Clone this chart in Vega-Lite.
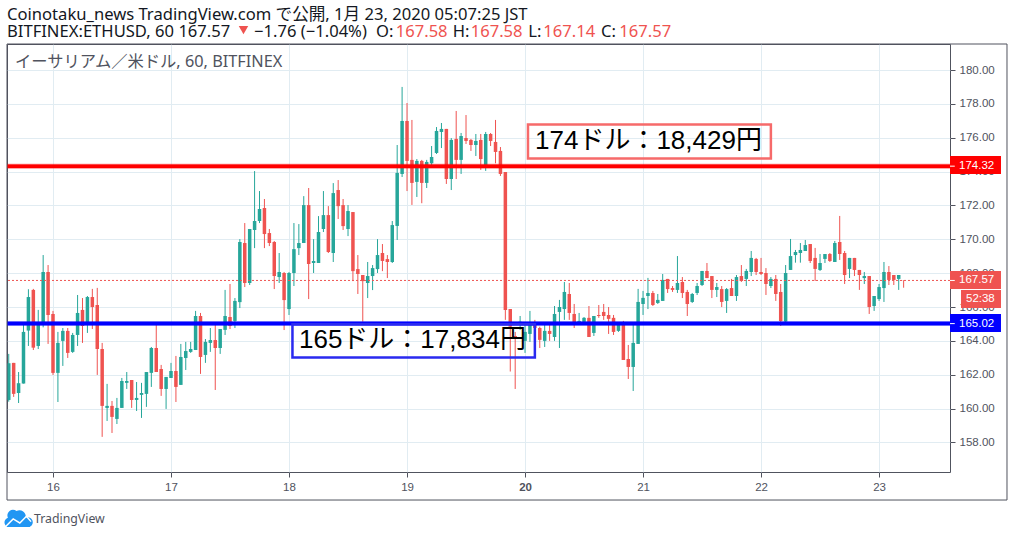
{
  "$schema": "https://vega.github.io/schema/vega-lite/v6.json",
  "width": 943,
  "height": 428,
  "autosize": {"type": "none"},
  "padding": {"left": 7, "top": 44, "right": 64, "bottom": 65},
  "background": "white",
  "config": {
    "view": {"stroke": "#50535e", "strokeWidth": 1},
    "axis": {"gridColor": "#e1ecf2", "gridWidth": 1, "tickColor": "#50535e", "tickSize": 5, "domain": false, "labelColor": "#50535e", "labelFont": "Liberation Sans", "labelFontSize": 11.5, "title": null}
  },
  "datasets": {
    "candles": [
      {"hour":-9,"open":160.51,"high":163.23,"low":160.41,"close":162.68},
      {"hour":-8,"open":162.70,"high":162.70,"low":160.69,"close":160.87},
      {"hour":-7,"open":160.92,"high":162.16,"low":160.33,"close":161.50},
      {"hour":-6,"open":161.48,"high":165.04,"low":161.48,"close":164.53},
      {"hour":-5,"open":164.61,"high":167.05,"low":163.70,"close":166.59},
      {"hour":-4,"open":167.01,"high":167.07,"low":163.46,"close":163.60},
      {"hour":-3,"open":163.70,"high":165.83,"low":163.52,"close":165.04},
      {"hour":-2,"open":165.04,"high":169.07,"low":164.80,"close":168.07},
      {"hour":-1,"open":168.07,"high":168.48,"low":163.82,"close":165.53},
      {"hour":0,"open":165.59,"high":165.77,"low":161.99,"close":162.11},
      {"hour":1,"open":162.11,"high":164.53,"low":160.39,"close":163.88},
      {"hour":2,"open":164.00,"high":164.76,"low":162.52,"close":164.59},
      {"hour":3,"open":164.59,"high":164.76,"low":162.99,"close":163.29},
      {"hour":4,"open":163.35,"high":164.47,"low":163.29,"close":164.35},
      {"hour":5,"open":164.35,"high":166.71,"low":163.70,"close":165.65},
      {"hour":6,"open":165.83,"high":166.53,"low":163.88,"close":164.88},
      {"hour":7,"open":165.04,"high":166.65,"low":164.47,"close":166.59},
      {"hour":8,"open":166.59,"high":167.07,"low":164.70,"close":166.00},
      {"hour":9,"open":166.12,"high":167.13,"low":161.99,"close":163.52},
      {"hour":10,"open":163.52,"high":163.88,"low":158.33,"close":160.16},
      {"hour":11,"open":160.04,"high":161.46,"low":159.27,"close":160.16},
      {"hour":12,"open":160.16,"high":160.45,"low":158.56,"close":159.51},
      {"hour":13,"open":159.39,"high":160.63,"low":159.09,"close":160.04},
      {"hour":14,"open":160.04,"high":161.81,"low":160.04,"close":161.63},
      {"hour":15,"open":161.52,"high":162.16,"low":161.16,"close":161.63},
      {"hour":16,"open":161.69,"high":161.69,"low":160.04,"close":160.51},
      {"hour":17,"open":160.51,"high":161.57,"low":159.86,"close":160.63},
      {"hour":18,"open":160.81,"high":161.52,"low":159.45,"close":160.92},
      {"hour":19,"open":160.87,"high":162.16,"low":160.10,"close":162.16},
      {"hour":20,"open":162.11,"high":163.64,"low":161.28,"close":163.58},
      {"hour":21,"open":163.58,"high":164.94,"low":162.16,"close":162.16},
      {"hour":22,"open":162.34,"high":162.58,"low":160.75,"close":161.16},
      {"hour":23,"open":161.16,"high":161.87,"low":159.98,"close":161.87},
      {"hour":24,"open":161.81,"high":162.70,"low":161.81,"close":162.22},
      {"hour":25,"open":162.22,"high":163.11,"low":160.39,"close":161.28},
      {"hour":26,"open":161.40,"high":163.82,"low":161.40,"close":163.05},
      {"hour":27,"open":162.99,"high":163.94,"low":162.28,"close":163.40},
      {"hour":28,"open":163.35,"high":163.94,"low":163.29,"close":163.52},
      {"hour":29,"open":163.46,"high":165.77,"low":163.46,"close":165.47},
      {"hour":30,"open":165.47,"high":165.65,"low":162.05,"close":163.05},
      {"hour":31,"open":163.17,"high":164.11,"low":162.70,"close":163.94},
      {"hour":32,"open":163.88,"high":164.76,"low":163.35,"close":164.05},
      {"hour":33,"open":164.05,"high":165.04,"low":161.10,"close":163.58},
      {"hour":34,"open":163.58,"high":164.70,"low":163.23,"close":164.70},
      {"hour":35,"open":164.65,"high":167.01,"low":164.35,"close":165.47},
      {"hour":36,"open":165.41,"high":167.36,"low":164.70,"close":164.88},
      {"hour":37,"open":165.18,"high":166.53,"low":164.76,"close":166.36},
      {"hour":38,"open":166.29,"high":170.01,"low":165.94,"close":169.84},
      {"hour":39,"open":169.78,"high":170.96,"low":167.18,"close":167.42},
      {"hour":40,"open":167.42,"high":170.61,"low":167.30,"close":170.61},
      {"hour":41,"open":170.55,"high":174.03,"low":169.48,"close":171.08},
      {"hour":42,"open":171.08,"high":172.85,"low":170.96,"close":171.79},
      {"hour":43,"open":171.85,"high":172.38,"low":169.48,"close":170.31},
      {"hour":44,"open":170.37,"high":170.61,"low":169.60,"close":169.78},
      {"hour":45,"open":169.84,"high":169.90,"low":167.06,"close":167.83},
      {"hour":46,"open":167.77,"high":169.19,"low":167.42,"close":168.07},
      {"hour":47,"open":168.01,"high":168.07,"low":164.64,"close":166.41},
      {"hour":48,"open":165.88,"high":168.07,"low":165.53,"close":168.01},
      {"hour":49,"open":168.01,"high":170.96,"low":167.24,"close":169.42},
      {"hour":50,"open":169.48,"high":170.90,"low":169.07,"close":169.78},
      {"hour":51,"open":169.78,"high":172.55,"low":169.78,"close":172.02},
      {"hour":52,"open":172.02,"high":173.03,"low":166.47,"close":168.54},
      {"hour":53,"open":168.60,"high":170.01,"low":168.01,"close":168.72},
      {"hour":54,"open":168.60,"high":171.37,"low":168.60,"close":170.43},
      {"hour":55,"open":170.61,"high":172.85,"low":170.43,"close":171.43},
      {"hour":56,"open":171.43,"high":171.96,"low":169.19,"close":169.25},
      {"hour":57,"open":169.19,"high":173.32,"low":168.66,"close":172.73},
      {"hour":58,"open":172.91,"high":173.50,"low":171.20,"close":171.96},
      {"hour":59,"open":172.02,"high":172.38,"low":170.55,"close":170.78},
      {"hour":60,"open":170.61,"high":172.02,"low":170.19,"close":171.67},
      {"hour":61,"open":171.61,"high":171.61,"low":167.53,"close":168.12},
      {"hour":62,"open":168.24,"high":169.07,"low":166.77,"close":167.95},
      {"hour":63,"open":167.89,"high":167.89,"low":165.13,"close":167.53},
      {"hour":64,"open":167.42,"high":168.66,"low":166.53,"close":167.83},
      {"hour":65,"open":167.83,"high":168.48,"low":167.00,"close":168.30},
      {"hour":66,"open":168.24,"high":170.01,"low":168.01,"close":169.07},
      {"hour":67,"open":169.19,"high":169.72,"low":168.12,"close":168.72},
      {"hour":68,"open":168.83,"high":169.07,"low":167.71,"close":168.66},
      {"hour":69,"open":168.66,"high":171.08,"low":168.60,"close":170.84},
      {"hour":70,"open":170.79,"high":175.57,"low":169.96,"close":173.92},
      {"hour":71,"open":173.86,"high":179.00,"low":173.68,"close":176.99},
      {"hour":72,"open":176.99,"high":178.05,"low":172.85,"close":174.63},
      {"hour":73,"open":174.69,"high":177.05,"low":172.03,"close":173.33},
      {"hour":74,"open":173.39,"high":174.74,"low":172.50,"close":174.63},
      {"hour":75,"open":174.63,"high":174.69,"low":172.13,"close":173.33},
      {"hour":76,"open":173.33,"high":174.69,"low":173.03,"close":174.57},
      {"hour":77,"open":174.49,"high":175.51,"low":174.33,"close":174.86},
      {"hour":78,"open":175.10,"high":176.63,"low":175.04,"close":176.40},
      {"hour":79,"open":176.34,"high":176.87,"low":175.39,"close":176.52},
      {"hour":80,"open":176.52,"high":176.52,"low":173.27,"close":173.56},
      {"hour":81,"open":173.56,"high":175.98,"low":172.91,"close":175.87},
      {"hour":82,"open":175.93,"high":177.58,"low":173.56,"close":174.69},
      {"hour":83,"open":174.69,"high":176.28,"low":173.86,"close":176.10},
      {"hour":84,"open":175.98,"high":177.34,"low":175.63,"close":175.81},
      {"hour":85,"open":175.87,"high":175.93,"low":175.22,"close":175.57},
      {"hour":86,"open":175.57,"high":176.22,"low":174.92,"close":175.81},
      {"hour":87,"open":175.87,"high":176.22,"low":174.10,"close":174.74},
      {"hour":88,"open":174.33,"high":176.34,"low":174.04,"close":176.22},
      {"hour":89,"open":176.22,"high":176.28,"low":175.51,"close":175.81},
      {"hour":90,"open":175.75,"high":177.05,"low":174.49,"close":175.16},
      {"hour":91,"open":175.22,"high":175.45,"low":173.74,"close":173.86},
      {"hour":92,"open":173.97,"high":173.97,"low":165.24,"close":165.83},
      {"hour":93,"open":165.88,"high":165.88,"low":162.19,"close":164.84},
      {"hour":94,"open":164.29,"high":164.53,"low":161.16,"close":164.11},
      {"hour":95,"open":164.94,"high":165.47,"low":164.65,"close":165.13},
      {"hour":96,"open":164.00,"high":165.04,"low":163.29,"close":164.53},
      {"hour":97,"open":164.41,"high":165.77,"low":163.94,"close":164.94},
      {"hour":98,"open":164.94,"high":165.24,"low":164.00,"close":164.76},
      {"hour":99,"open":164.76,"high":164.84,"low":163.58,"close":164.06},
      {"hour":100,"open":164.00,"high":164.94,"low":163.64,"close":164.59},
      {"hour":101,"open":164.59,"high":164.94,"low":164.00,"close":164.41},
      {"hour":102,"open":164.23,"high":166.06,"low":164.00,"close":165.59},
      {"hour":103,"open":165.71,"high":166.42,"low":163.58,"close":166.00},
      {"hour":104,"open":165.88,"high":167.48,"low":165.24,"close":166.89},
      {"hour":105,"open":166.77,"high":167.42,"low":165.24,"close":165.65},
      {"hour":106,"open":165.59,"high":166.18,"low":164.76,"close":165.00},
      {"hour":107,"open":164.94,"high":165.65,"low":164.94,"close":165.18},
      {"hour":108,"open":165.12,"high":165.41,"low":164.94,"close":165.36},
      {"hour":109,"open":165.36,"high":166.06,"low":164.23,"close":164.23},
      {"hour":110,"open":164.47,"high":165.47,"low":164.29,"close":165.47},
      {"hour":111,"open":165.53,"high":166.12,"low":165.36,"close":165.47},
      {"hour":112,"open":165.71,"high":166.18,"low":165.24,"close":165.47},
      {"hour":113,"open":165.53,"high":166.00,"low":164.41,"close":165.30},
      {"hour":114,"open":165.36,"high":165.53,"low":164.35,"close":164.53},
      {"hour":115,"open":164.59,"high":164.94,"low":164.53,"close":164.94},
      {"hour":116,"open":165.06,"high":165.18,"low":162.87,"close":162.87},
      {"hour":117,"open":162.93,"high":163.76,"low":161.75,"close":162.46},
      {"hour":118,"open":162.46,"high":164.94,"low":161.04,"close":163.88},
      {"hour":119,"open":163.82,"high":167.07,"low":163.82,"close":166.30},
      {"hour":120,"open":166.18,"high":166.95,"low":165.53,"close":166.54},
      {"hour":121,"open":166.65,"high":167.72,"low":165.88,"close":166.83},
      {"hour":122,"open":166.83,"high":166.95,"low":166.06,"close":166.12},
      {"hour":123,"open":166.24,"high":166.77,"low":166.18,"close":166.42},
      {"hour":124,"open":166.36,"high":167.95,"low":166.36,"close":167.60},
      {"hour":125,"open":167.66,"high":167.66,"low":166.83,"close":167.06},
      {"hour":126,"open":167.12,"high":167.24,"low":166.89,"close":167.01},
      {"hour":127,"open":167.01,"high":169.01,"low":166.83,"close":167.42},
      {"hour":128,"open":167.48,"high":167.77,"low":166.53,"close":166.83},
      {"hour":129,"open":166.89,"high":167.01,"low":165.47,"close":166.18},
      {"hour":130,"open":166.30,"high":166.83,"low":166.24,"close":166.77},
      {"hour":131,"open":166.83,"high":167.42,"low":166.71,"close":167.24},
      {"hour":132,"open":167.30,"high":168.13,"low":167.24,"close":168.13},
      {"hour":133,"open":168.13,"high":168.60,"low":167.71,"close":167.71},
      {"hour":134,"open":167.83,"high":167.83,"low":166.53,"close":167.01},
      {"hour":135,"open":167.01,"high":167.42,"low":166.59,"close":167.18},
      {"hour":136,"open":167.06,"high":167.24,"low":166.00,"close":166.30},
      {"hour":137,"open":166.36,"high":167.12,"low":165.65,"close":167.06},
      {"hour":138,"open":167.12,"high":167.66,"low":166.65,"close":166.65},
      {"hour":139,"open":166.65,"high":167.89,"low":166.36,"close":167.77},
      {"hour":140,"open":167.83,"high":168.48,"low":167.48,"close":167.54},
      {"hour":141,"open":167.66,"high":168.25,"low":167.24,"close":168.13},
      {"hour":142,"open":168.07,"high":169.31,"low":167.83,"close":168.90},
      {"hour":143,"open":168.84,"high":168.90,"low":167.89,"close":168.07},
      {"hour":144,"open":168.07,"high":168.90,"low":167.89,"close":167.95},
      {"hour":145,"open":168.01,"high":168.30,"low":166.71,"close":167.36},
      {"hour":146,"open":167.24,"high":167.77,"low":167.12,"close":167.66},
      {"hour":147,"open":167.66,"high":167.89,"low":166.36,"close":166.77},
      {"hour":148,"open":166.89,"high":167.36,"low":164.88,"close":165.17},
      {"hour":149,"open":165.14,"high":168.48,"low":165.04,"close":168.01},
      {"hour":150,"open":168.19,"high":170.02,"low":168.19,"close":169.01},
      {"hour":151,"open":169.07,"high":169.37,"low":168.62,"close":169.25},
      {"hour":152,"open":169.19,"high":169.78,"low":168.62,"close":169.37},
      {"hour":153,"open":169.31,"high":169.96,"low":169.31,"close":169.66},
      {"hour":154,"open":169.72,"high":169.72,"low":168.60,"close":168.72},
      {"hour":155,"open":168.90,"high":169.49,"low":167.54,"close":168.25},
      {"hour":156,"open":168.19,"high":169.13,"low":168.13,"close":168.60},
      {"hour":157,"open":168.84,"high":169.13,"low":168.60,"close":169.13},
      {"hour":158,"open":169.13,"high":169.19,"low":168.66,"close":168.72},
      {"hour":159,"open":168.66,"high":169.90,"low":168.66,"close":169.78},
      {"hour":160,"open":169.84,"high":171.38,"low":168.78,"close":169.13},
      {"hour":161,"open":169.19,"high":169.31,"low":167.36,"close":167.89},
      {"hour":162,"open":168.25,"high":168.90,"low":167.71,"close":168.90},
      {"hour":163,"open":168.90,"high":168.90,"low":167.83,"close":168.19},
      {"hour":164,"open":168.19,"high":168.19,"low":167.01,"close":167.89},
      {"hour":165,"open":167.71,"high":168.07,"low":167.36,"close":167.83},
      {"hour":166,"open":167.83,"high":167.83,"low":165.59,"close":166.00},
      {"hour":167,"open":166.06,"high":166.65,"low":165.77,"close":166.65},
      {"hour":168,"open":166.47,"high":167.36,"low":166.36,"close":167.18},
      {"hour":169,"open":167.12,"high":168.66,"low":166.30,"close":168.07},
      {"hour":170,"open":168.07,"high":168.42,"low":167.30,"close":167.60},
      {"hour":171,"open":167.89,"high":167.89,"low":167.30,"close":167.60},
      {"hour":172,"open":167.66,"high":167.89,"low":167.01,"close":167.89},
      {"hour":173,"open":167.58,"high":167.58,"low":167.14,"close":167.57}
    ],
    "darkText": [
      {"hour":-9.355,"price":183.25,"label":"Coinotaku_news TradingView.com で公開, 1月 23, 2020 05:07:25 JST"},
      {"hour":-9.355,"price":182.24,"label":"BITFINEX:ETHUSD, 60 167.57"},
      {"hour":40.88,"price":182.24,"label":"−1.76 (−1.04%)"},
      {"hour":65.69,"price":182.24,"label":"O:"},
      {"hour":81.29,"price":182.24,"label":"H:"},
      {"hour":96.66,"price":182.24,"label":"L:"},
      {"hour":111.45,"price":182.24,"label":"C:"}
    ],
    "redText": [
      {"hour":69.70,"price":182.24,"label":"167.58"},
      {"hour":84.95,"price":182.24,"label":"167.58"},
      {"hour":99.71,"price":182.24,"label":"167.14"},
      {"hour":115.17,"price":182.24,"label":"167.57"}
    ],
    "tags": [
      {"hour":182.43,"hour2":192.8,"top":174.92,"bottom":173.86,"tag":"resistance","tickHour":183.4,"price":174.32,"labelHour":184.26,"label":"174.32"},
      {"hour":182.43,"hour2":192.8,"top":168.13,"bottom":167.06,"tag":"last","tickHour":183.4,"price":167.57,"labelHour":184.26,"label":"167.57"},
      {"hour":184.67,"hour2":192.8,"top":167.00,"bottom":165.94,"tag":"last","tickHour":184.67,"price":166.47,"labelHour":185.68,"label":"52:38"},
      {"hour":182.43,"hour2":192.8,"top":165.59,"bottom":164.52,"tag":"support","tickHour":183.4,"price":165.02,"labelHour":184.26,"label":"165.02"}
    ],
    "boxes": [
      {"hour":96.6,"hour2":146.0,"top":176.78,"bottom":174.78,"level":"resistance","labelHour":98.03,"price":175.81,"label":"174ドル：18,429円"},
      {"hour":48.7,"hour2":98.0,"top":164.98,"bottom":163.02,"level":"support","labelHour":50.03,"price":164.05,"label":"165ドル：17,834円"}
    ]
  },
  "layer": [
    {
      "data": {"name": "candles"},
      "mark": {"type": "rule", "strokeWidth": 1},
      "encoding": {
        "x": {"field": "hour", "type": "quantitative", "title": null,
          "scale": {"domain": [-9.355, 182.43], "nice": false, "zero": false},
          "axis": {"orient": "bottom", "values": [0,24,48,72,96,120,144,168], "grid": true, "labelExpr": "'' + (datum.value / 24 + 16)", "labelPadding": 4,
            "labelFontWeight": {"condition": {"test": "datum.value == 96", "value": "bold"}, "value": "normal"}}},
        "y": {"field": "low", "type": "quantitative", "title": null,
          "scale": {"domain": [156.255, 181.536], "nice": false, "zero": false},
          "axis": {"orient": "right", "values": [158,160,162,164,166,168,170,172,174,176,178,180], "tickCount": 12, "grid": true, "format": ".2f", "labelPadding": 4, "labelOverlap": false}},
        "y2": {"field": "high"},
        "color": {"condition": {"test": "datum.close >= datum.open", "value": "#26a69a"}, "value": "#ef5350"}
      }
    },
    {
      "data": {"name": "candles"},
      "mark": {"type": "rule", "strokeWidth": 3.5},
      "encoding": {
        "x": {"field": "hour", "type": "quantitative"},
        "y": {"field": "open", "type": "quantitative"},
        "y2": {"field": "close"},
        "color": {"condition": {"test": "datum.close >= datum.open", "value": "#26a69a"}, "value": "#ef5350"}
      }
    },
    {
      "data": {"values": [{"price": 167.57}]},
      "mark": {"type": "rule", "stroke": "#ef5350", "strokeWidth": 1, "strokeDash": [2, 2]},
      "encoding": {"y": {"field": "price", "type": "quantitative"}}
    },
    {
      "data": {"values": [{"price": 174.32}]},
      "mark": {"type": "rule", "stroke": "#ff0000", "strokeWidth": 5, "opacity": 0.45},
      "encoding": {"y": {"field": "price", "type": "quantitative"}}
    },
    {
      "data": {"values": [{"price": 174.32}]},
      "mark": {"type": "rule", "stroke": "#ff0000", "strokeWidth": 3.5},
      "encoding": {"y": {"field": "price", "type": "quantitative"}}
    },
    {
      "data": {"values": [{"price": 165.02}]},
      "mark": {"type": "rule", "stroke": "#0000ff", "strokeWidth": 5, "opacity": 0.45},
      "encoding": {"y": {"field": "price", "type": "quantitative"}}
    },
    {
      "data": {"values": [{"price": 165.02}]},
      "mark": {"type": "rule", "stroke": "#0000ff", "strokeWidth": 3.5},
      "encoding": {"y": {"field": "price", "type": "quantitative"}}
    },
    {
      "data": {"values": [{"hour": -9.355, "hour2": 194.02, "top": 181.536, "bottom": 154.6}]},
      "mark": {"type": "rect", "fillOpacity": 0, "stroke": "#50535e", "strokeWidth": 1},
      "encoding": {
        "x": {"field": "hour", "type": "quantitative"},
        "x2": {"field": "hour2"},
        "y": {"field": "top", "type": "quantitative"},
        "y2": {"field": "bottom"}
      }
    },
    {
      "data": {"name": "boxes"},
      "mark": {"type": "rect", "fillOpacity": 0, "strokeWidth": 2.5},
      "encoding": {
        "x": {"field": "hour", "type": "quantitative"},
        "x2": {"field": "hour2"},
        "y": {"field": "top", "type": "quantitative"},
        "y2": {"field": "bottom"},
        "stroke": {"field": "level", "type": "nominal", "legend": null, "scale": {"domain": ["resistance", "support"], "range": ["#f66a6a", "#2a2af0"]}}
      }
    },
    {
      "data": {"name": "boxes"},
      "mark": {"type": "text", "align": "left", "baseline": "middle", "color": "#000000", "font": "'Liberation Sans', 'Noto Sans CJK JP'", "fontSize": 26},
      "encoding": {
        "x": {"field": "labelHour", "type": "quantitative"},
        "y": {"field": "price", "type": "quantitative"},
        "text": {"field": "label"}
      }
    },
    {
      "data": {"name": "tags"},
      "mark": {"type": "rect"},
      "encoding": {
        "x": {"field": "hour", "type": "quantitative"},
        "x2": {"field": "hour2"},
        "y": {"field": "top", "type": "quantitative"},
        "y2": {"field": "bottom"},
        "color": {"field": "tag", "type": "nominal", "legend": null, "scale": {"domain": ["resistance", "last", "support"], "range": ["#ff0000", "#ef5350", "#0000ff"]}}
      }
    },
    {
      "data": {"name": "tags"},
      "mark": {"type": "rule", "stroke": "white", "strokeWidth": 1},
      "encoding": {
        "x": {"field": "hour", "type": "quantitative"},
        "x2": {"field": "tickHour"},
        "y": {"field": "price", "type": "quantitative"}
      }
    },
    {
      "data": {"name": "tags"},
      "mark": {"type": "text", "align": "left", "baseline": "middle", "color": "white", "font": "Liberation Sans", "fontSize": 11.5},
      "encoding": {
        "x": {"field": "labelHour", "type": "quantitative"},
        "y": {"field": "price", "type": "quantitative"},
        "text": {"field": "label"}
      }
    },
    {
      "data": {"name": "darkText"},
      "mark": {"type": "text", "align": "left", "baseline": "middle", "color": "#131722", "font": "'Noto Sans', 'Noto Sans CJK JP'", "fontSize": 16.6},
      "encoding": {
        "x": {"field": "hour", "type": "quantitative"},
        "y": {"field": "price", "type": "quantitative"},
        "text": {"field": "label"}
      }
    },
    {
      "data": {"name": "redText"},
      "mark": {"type": "text", "align": "left", "baseline": "middle", "color": "#ef5350", "font": "'Noto Sans', 'Noto Sans CJK JP'", "fontSize": 16.6},
      "encoding": {
        "x": {"field": "hour", "type": "quantitative"},
        "y": {"field": "price", "type": "quantitative"},
        "text": {"field": "label"}
      }
    },
    {
      "data": {"values": [{"hour": 38.74, "price": 182.36}]},
      "mark": {"type": "point", "shape": "triangle-down", "filled": true, "color": "#ef5350", "size": 90, "opacity": 1},
      "encoding": {
        "x": {"field": "hour", "type": "quantitative"},
        "y": {"field": "price", "type": "quantitative"}
      }
    },
    {
      "data": {"values": [{"hour": -7.73, "price": 180.47, "label": "イーサリアム／米ドル, 60, BITFINEX"}]},
      "mark": {"type": "text", "align": "left", "baseline": "middle", "color": "#50535e", "font": "'Noto Sans', 'Noto Sans CJK JP'", "fontSize": 16.3},
      "encoding": {
        "x": {"field": "hour", "type": "quantitative"},
        "y": {"field": "price", "type": "quantitative"},
        "text": {"field": "label"}
      }
    },
    {
      "data": {"values": [{"hour": -7.02, "price": 153.48}]},
      "mark": {"type": "point", "shape": "M-0.85,0.6 A0.38,0.38 0 0 1 -0.8,-0.1 A0.42,0.42 0 0 1 -0.15,-0.6 A0.48,0.48 0 0 1 0.55,-0.1 A0.35,0.35 0 0 1 0.85,0.6 Z", "filled": true, "color": "#2196f3", "size": 700, "opacity": 1},
      "encoding": {
        "x": {"field": "hour", "type": "quantitative"},
        "y": {"field": "price", "type": "quantitative"}
      }
    },
    {
      "data": {"values": [{"hour": -7.02, "price": 153.48}]},
      "mark": {"type": "point", "shape": "M-0.95,0.55 L-0.4,0 L0.1,0.3 L0.6,-0.2 L0.95,0.2", "filled": false, "stroke": "white", "strokeWidth": 1.5, "size": 700, "opacity": 1},
      "encoding": {
        "x": {"field": "hour", "type": "quantitative"},
        "y": {"field": "price", "type": "quantitative"}
      }
    },
    {
      "data": {"values": [{"hour": -3.86, "price": 153.48, "label": "TradingView"}]},
      "mark": {"type": "text", "align": "left", "baseline": "middle", "color": "#50535e", "font": "Noto Sans", "fontSize": 12.3},
      "encoding": {
        "x": {"field": "hour", "type": "quantitative"},
        "y": {"field": "price", "type": "quantitative"},
        "text": {"field": "label"}
      }
    }
  ]
}
